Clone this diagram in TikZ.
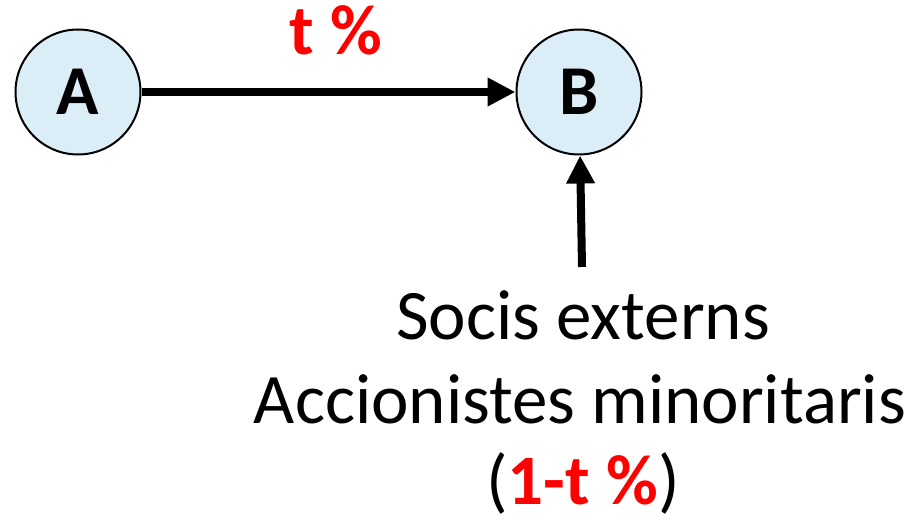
\documentclass[tikz,border=0pt]{standalone}
\usepackage{fontspec}
\setmainfont{Carlito}
\usetikzlibrary{arrows.meta}
\definecolor{nodefill}{RGB}{219,238,248}
\definecolor{redtxt}{RGB}{255,0,0}
\tikzset{
  ent/.style={circle, draw=black, line width=2pt, fill=nodefill, minimum size=125pt, inner sep=0pt, font=\fontsize{70}{76}\selectfont\bfseries},
  conn/.style={line width=8pt, -{Triangle[length=28pt,width=27pt]}},
  body/.style={font=\fontsize{71}{76}\selectfont, anchor=base, inner sep=0pt}
}
\begin{document}
\begin{tikzpicture}[x=1pt,y=-1pt]
\useasboundingbox (0,0) rectangle (912,521);
\node[ent] (A) at (78,92) {A};
\node[ent] (B) at (579,92) {B};
\node[font=\fontsize{71}{76}\selectfont\bfseries, text=redtxt, anchor=base, inner sep=0pt] (t) at (336,55) {t \%};
\coordinate (s) at (582,267);
\draw[conn] (A) -- (B);
\draw[conn] (s) -- (B);
\node[body] (l1) at (583,339) {Socis externs};
\node[body] (l2) at (580,423) {Accionistes minoritaris};
\node[body] (l3) at (583,504) {(\textcolor{redtxt}{\bfseries 1-t \%})};
\end{tikzpicture}
\end{document}
